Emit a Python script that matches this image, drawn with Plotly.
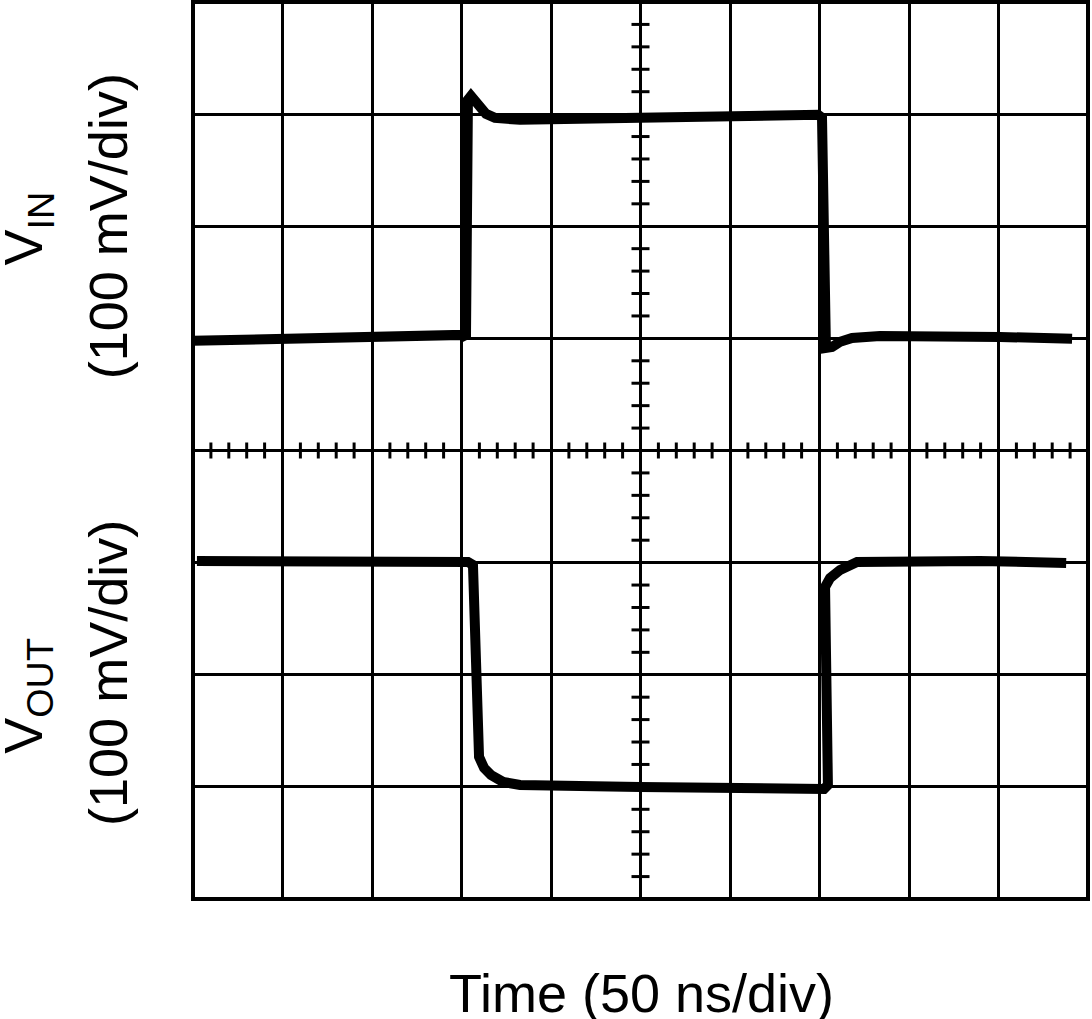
import plotly.graph_objects as go

# Time in ns (50 ns/div), amplitude in screen divisions (0 = bottom, 8 = top)
vin_t = [0.0, 146.4, 150.3, 152.5, 153.6, 155.3, 159.2, 163.7, 168.7, 182.7,
         249.7, 316.8, 349.2, 351.4, 353.6, 357.0, 361.5, 368.2, 383.8, 450.8, 491.1]
vin_v = [4.978, 5.040, 5.031, 5.004, 7.128, 7.163, 7.092, 7.002, 6.967, 6.949,
         6.967, 6.985, 6.994, 6.967, 4.915, 4.924, 4.969, 5.004, 5.022, 5.013, 4.996]

vout_t = [2.2, 153.6, 156.4, 158.1, 159.8, 162.6, 166.5, 173.2, 182.7, 249.7,
          316.8, 352.5, 354.7, 353.6, 353.1, 355.9, 361.5, 371.0, 395.0, 439.7, 487.8]
vout_v = [3.015, 3.006, 2.979, 1.998, 1.267, 1.169, 1.106, 1.044, 1.017, 0.999,
          0.990, 0.981, 1.017, 1.954, 2.783, 2.863, 2.935, 3.006, 3.015, 3.015, 2.997]

x_label = "Time (50 ns/div)"
vin_label = "V<sub>IN</sub>"
vout_label = "V<sub>OUT</sub>"
scale_label = "(100 mV/div)"

T_MAX = 500
V_MAX = 8
X_DIV = 50
X_MINOR = 10
Y_MINOR = 0.2

fig = go.Figure()
fig.add_trace(go.Scatter(x=vin_t, y=vin_v, mode="lines",
                         line=dict(color="black", width=10), showlegend=False))
fig.add_trace(go.Scatter(x=vout_t, y=vout_v, mode="lines",
                         line=dict(color="black", width=10), showlegend=False))

shapes = []
# minor ticks on horizontal centre line
t = 0
while t <= T_MAX:
    if t % X_DIV != 0:
        shapes.append(dict(type="line", xref="x", yref="y", x0=t, x1=t,
                           ysizemode="pixel", yanchor=V_MAX / 2, y0=-8, y1=8,
                           line=dict(color="black", width=3)))
    t += X_MINOR
# minor ticks on vertical centre line
k = 1
while k < V_MAX / Y_MINOR:
    if k % 5 != 0:
        shapes.append(dict(type="line", xref="x", yref="y", y0=k * Y_MINOR, y1=k * Y_MINOR,
                           xsizemode="pixel", xanchor=T_MAX / 2, x0=-9, x1=9,
                           line=dict(color="black", width=3)))
    k += 1
# frame
shapes.append(dict(type="rect", xref="paper", yref="paper", x0=0, x1=1, y0=0, y1=1,
                   line=dict(color="black", width=4)))

font = dict(family="Liberation Sans, Arial, sans-serif", size=54, color="black")
annotations = [
    dict(text=x_label, xref="paper", yref="paper", x=0.501, y=-0.105,
         showarrow=False, font=font, xanchor="center", yanchor="middle"),
    dict(text=vin_label, xref="paper", yref="paper", x=-0.185, y=0.748,
         showarrow=False, font=font, textangle=-90, xanchor="center", yanchor="middle"),
    dict(text=scale_label, xref="paper", yref="paper", x=-0.095, y=0.750,
         showarrow=False, font=font, textangle=-90, xanchor="center", yanchor="middle"),
    dict(text=vout_label, xref="paper", yref="paper", x=-0.185, y=0.227,
         showarrow=False, font=font, textangle=-90, xanchor="center", yanchor="middle"),
    dict(text=scale_label, xref="paper", yref="paper", x=-0.095, y=0.252,
         showarrow=False, font=font, textangle=-90, xanchor="center", yanchor="middle"),
]

fig.update_layout(
    width=1092, height=1019,
    margin=dict(l=193, r=4, t=2, b=120),
    paper_bgcolor="white", plot_bgcolor="white",
    shapes=shapes, annotations=annotations,
    xaxis=dict(range=[0, T_MAX], dtick=X_DIV, tick0=0, showgrid=True, gridcolor="black",
               gridwidth=3, zeroline=False, showticklabels=False, ticks="", showline=False,
               fixedrange=True),
    yaxis=dict(range=[0, V_MAX], dtick=1, tick0=0, showgrid=True, gridcolor="black",
               gridwidth=3, zeroline=False, showticklabels=False, ticks="", showline=False,
               fixedrange=True),
)

fig.write_html("out.html", config=dict(displayModeBar=False),
               post_script="document.body.style.margin='0';document.body.style.overflow='hidden';")
